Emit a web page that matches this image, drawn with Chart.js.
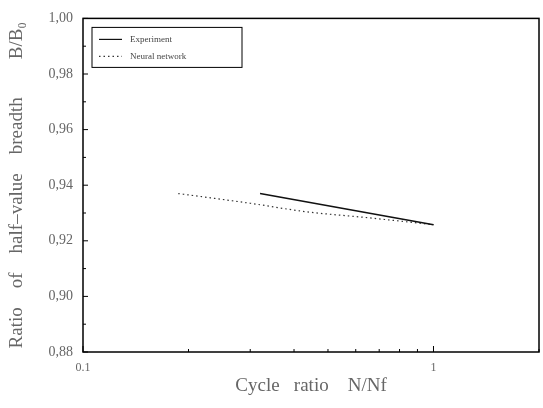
<!DOCTYPE html>
<html>
<head>
<meta charset="utf-8">
<script src="https://cdn.jsdelivr.net/npm/chart.js@4/dist/chart.umd.min.js"></script>
<style>
  html, body { margin: 0; padding: 0; background: #fff; }
  #wrap { width: 543px; height: 408px; }
</style>
</head>
<body>
<div id="wrap"><canvas id="myChart" width="543" height="408"></canvas></div>
<script>
// values
const expX = [0.32, 1.0]
const expY = [0.937, 0.9258]
const nnX = [0.187, 0.3, 0.43, 0.65, 1.0]
const nnY = [0.937, 0.9335, 0.9305, 0.9283, 0.9258]
const yTicks = [0.88, 0.9, 0.92, 0.94, 0.96, 0.98, 1.0]
const xTicks = [0.1, 1]
const seriesNames = ['Experiment', 'Neural network']

const toPts = (xs, ys) => xs.map((x, i) => ({ x: x, y: ys[i] }))
const serif = 'Liberation Serif, DejaVu Serif, serif'
const gray = '#666'

// box, inward ticks and a small framed legend
const framePlugin = {
  id: 'frame',
  afterDraw(chart) {
    const ctx = chart.ctx
    const a = chart.chartArea
    const xs = chart.scales.x
    const ys = chart.scales.y
    ctx.save()
    ctx.strokeStyle = '#000'
    ctx.lineWidth = 1.5
    ctx.strokeRect(a.left, a.top, a.right - a.left, a.bottom - a.top)
    ctx.lineWidth = 1
    // y ticks
    for (let v = 0.88; v <= 1.0001; v += 0.01) {
      const py = ys.getPixelForValue(v)
      const major = Math.round(v * 100) % 2 === 0
      ctx.beginPath()
      ctx.moveTo(a.left, py)
      ctx.lineTo(a.left + (major ? 5 : 3), py)
      ctx.stroke()
    }
    // x ticks
    const xt = [0.1, 0.2, 0.3, 0.4, 0.5, 0.6, 0.7, 0.8, 0.9, 1, 2]
    xt.forEach(function (v) {
      const px = xs.getPixelForValue(v)
      const major = v === 0.1 || v === 1
      ctx.beginPath()
      ctx.moveTo(px, a.bottom)
      ctx.lineTo(px, a.bottom - (major ? 6 : 3))
      ctx.stroke()
    })
    // legend
    const lx = a.left + 9, ly = a.top + 9, lw = 150, lh = 40
    ctx.strokeRect(lx, ly, lw, lh)
    ctx.font = '9px ' + serif
    ctx.fillStyle = '#444'
    ctx.textBaseline = 'middle'
    chart.data.datasets.forEach(function (ds, i) {
      const yy = ly + 12 + i * 17
      ctx.strokeStyle = ds.borderColor
      ctx.lineWidth = 1.2
      ctx.setLineDash(ds.borderDash || [])
      ctx.beginPath()
      ctx.moveTo(lx + 7, yy)
      ctx.lineTo(lx + 30, yy)
      ctx.stroke()
      ctx.setLineDash([])
      ctx.fillText(ds.label, lx + 38, yy)
    })
    ctx.restore()
  }
}

const config = {
  type: 'line',
  data: {
    datasets: [
      {
        label: seriesNames[0],
        data: toPts(expX, expY),
        borderColor: '#111',
        borderWidth: 1.6,
        pointRadius: 0,
        fill: false
      },
      {
        label: seriesNames[1],
        data: toPts(nnX, nnY),
        borderColor: '#333',
        borderWidth: 1.2,
        borderDash: [1.5, 3],
        cubicInterpolationMode: 'monotone',
        pointRadius: 0,
        fill: false
      }
    ]
  },
  options: {
    responsive: false,
    animation: false,
    layout: { padding: { top: 14, right: 4, left: 0, bottom: 11 } },
    plugins: {
      legend: { display: false },
      tooltip: { enabled: false }
    },
    scales: {
      x: {
        type: 'logarithmic',
        min: 0.1,
        max: 2,
        afterFit: function (s) { s.height = 45 },
        afterBuildTicks: function (s) { s.ticks = xTicks.map(v => ({ value: v })) },
        grid: { display: false, drawTicks: false },
        border: { display: false },
        ticks: {
          color: gray,
          font: { family: serif, size: 12 },
          padding: 9,
          maxRotation: 0,
          callback: function (v) { return String(v) }
        },
        title: {
          display: true,
          text: 'Cycle   ratio    N/Nf',
          color: gray,
          font: { family: serif, size: 19 },
          padding: { top: 2, bottom: 0 }
        }
      },
      y: {
        min: 0.88,
        max: 1.0,
        afterFit: function (s) { s.width = 83 },
        afterBuildTicks: function (s) { s.ticks = yTicks.map(v => ({ value: v })) },
        grid: { display: false, drawTicks: false },
        border: { display: false },
        ticks: {
          color: gray,
          font: { family: serif, size: 14 },
          padding: 10,
          callback: function (v) { return v.toFixed(2).replace('.', ',') }
        },
        title: {
          display: true,
          text: 'Ratio    of    half\u2013value    breadth        B/B\u2080',
          color: gray,
          font: { family: serif, size: 19 },
          padding: { top: 6, bottom: 4 }
        }
      }
    }
  },
  plugins: [framePlugin]
}

const myChart = new Chart(document.getElementById('myChart'), config)
</script>
</body>
</html>
